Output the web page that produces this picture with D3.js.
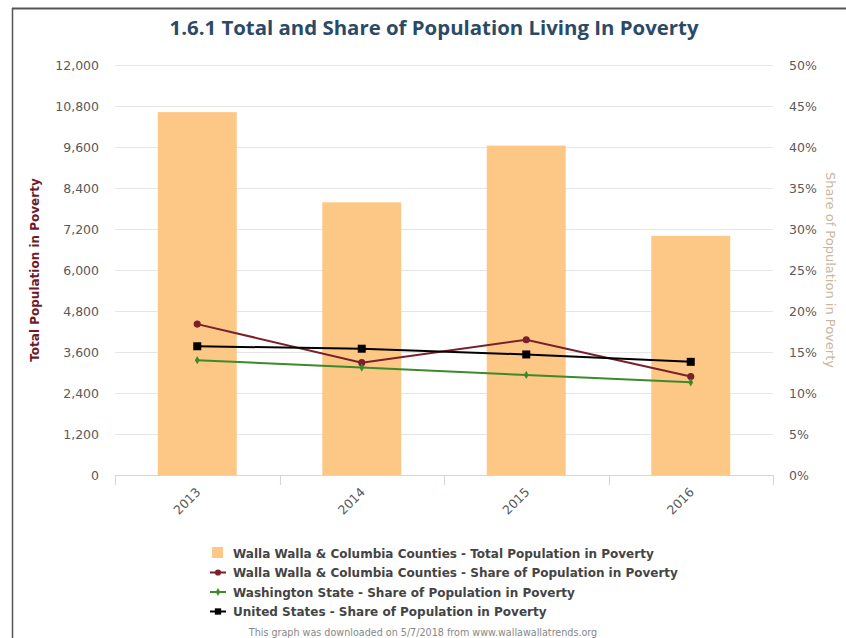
<!DOCTYPE html>
<html>
<head>
<meta charset="utf-8">
<script src="https://cdn.jsdelivr.net/npm/d3@7"></script>
<style>
  body { margin: 0; background: #fff; }
  svg { display: block; }
</style>
</head>
<body>
<div id="chart"></div>
<script>
// CHART DATA
const years = ['2013', '2014', '2015', '2016'];
const countyTotal = [10620, 7980, 9640, 7000];
const countyShare = [18.4, 13.7, 16.5, 12.0];
const stateShare = [14.0, 13.1, 12.2, 11.3];
const usShare = [15.7, 15.4, 14.7, 13.8];
const leftTicks = [0, 1200, 2400, 3600, 4800, 6000, 7200, 8400, 9600, 10800, 12000];
const rightTicks = [0, 5, 10, 15, 20, 25, 30, 35, 40, 45, 50];

// PLOT DEFAULTS
const SVG_WIDTH = 846;
const SVG_HEIGHT = 638;
const PLOT = { left: 115, right: 773, top: 65, bottom: 475 };
const BAR_COLOR = '#fdc785';
const FONT = '"DejaVu Sans", Verdana, sans-serif';

const svg = d3.select('#chart')
  .append('svg')
  .attr('width', SVG_WIDTH)
  .attr('height', SVG_HEIGHT);

// frame around the exported graph
svg.append('line')
  .attr('x1', 12).attr('x2', SVG_WIDTH).attr('y1', 8.5).attr('y2', 8.5)
  .attr('stroke', '#555').attr('stroke-width', 2);
svg.append('line')
  .attr('x1', 12.5).attr('x2', 12.5).attr('y1', 8).attr('y2', SVG_HEIGHT)
  .attr('stroke', '#555').attr('stroke-width', 1.5);

// title
svg.append('text')
  .attr('x', 434)
  .attr('y', 35)
  .attr('text-anchor', 'middle')
  .style('font-family', '"Open Sans", sans-serif')
  .style('font-weight', 'bold')
  .style('font-size', '20.4px')
  .style('fill', '#2b4a66')
  .text('1.6.1 Total and Share of Population Living In Poverty');

// scales
const xScale = d3.scaleBand()
  .domain(years)
  .range([PLOT.left, PLOT.right])
  .paddingInner(0)
  .paddingOuter(0);

const barWidth = xScale.bandwidth() * 0.48;

const yLeft = d3.scaleLinear()
  .domain([0, 12000])
  .range([PLOT.bottom, PLOT.top]);

const yRight = d3.scaleLinear()
  .domain([0, 50])
  .range([PLOT.bottom, PLOT.top]);

// grid lines
svg.append('g')
  .selectAll('line')
  .data(leftTicks.slice(1))
  .join('line')
  .attr('x1', PLOT.left)
  .attr('x2', PLOT.right)
  .attr('y1', d => Math.round(yLeft(d)) + 0.5)
  .attr('y2', d => Math.round(yLeft(d)) + 0.5)
  .attr('stroke', '#e6e6e6')
  .attr('stroke-width', 1);

// left axis labels
svg.append('g')
  .selectAll('text')
  .data(leftTicks)
  .join('text')
  .attr('x', 99)
  .attr('y', d => yLeft(d) + 4.5)
  .attr('text-anchor', 'end')
  .style('font-family', FONT)
  .style('font-size', '12.5px')
  .style('fill', '#5a5a5a')
  .text(d => d3.format(',')(d));

// right axis labels
svg.append('g')
  .selectAll('text')
  .data(rightTicks)
  .join('text')
  .attr('x', 789)
  .attr('y', d => yRight(d) + 4.5)
  .attr('text-anchor', 'start')
  .style('font-family', FONT)
  .style('font-size', '12.5px')
  .style('fill', '#5a5a5a')
  .text(d => d + '%');

// axis titles
svg.append('text')
  .attr('transform', 'translate(39, 270) rotate(-90)')
  .attr('text-anchor', 'middle')
  .style('font-family', FONT)
  .style('font-weight', 'bold')
  .style('font-size', '12px')
  .style('fill', '#6e1a2a')
  .text('Total Population in Poverty');

svg.append('text')
  .attr('transform', 'translate(826, 270) rotate(90)')
  .attr('text-anchor', 'middle')
  .style('font-family', FONT)
  .style('font-size', '13px')
  .style('fill', '#cbb79c')
  .text('Share of Population in Poverty');

// bars
svg.append('g')
  .selectAll('rect')
  .data(years)
  .join('rect')
  .attr('x', d => xScale(d) + (xScale.bandwidth() - barWidth) / 2)
  .attr('width', barWidth)
  .attr('y', (d, i) => yLeft(countyTotal[i]))
  .attr('height', (d, i) => PLOT.bottom - yLeft(countyTotal[i]))
  .attr('fill', BAR_COLOR);

// x axis line and ticks
const xAxis = svg.append('g');
xAxis.append('line')
  .attr('x1', PLOT.left).attr('x2', PLOT.right)
  .attr('y1', PLOT.bottom + 0.5).attr('y2', PLOT.bottom + 0.5)
  .attr('stroke', '#ccd6eb');
xAxis.selectAll('line.tick')
  .data(years.concat(['end']))
  .join('line')
  .attr('class', 'tick')
  .attr('x1', (d, i) => Math.round(i < years.length ? xScale(d) : PLOT.right) + 0.5)
  .attr('x2', (d, i) => Math.round(i < years.length ? xScale(d) : PLOT.right) + 0.5)
  .attr('y1', PLOT.bottom)
  .attr('y2', PLOT.bottom + 10)
  .attr('stroke', '#ccd6eb');

// rotated year labels
xAxis.selectAll('text')
  .data(years)
  .join('text')
  .attr('transform', d => `translate(${xScale(d) + xScale.bandwidth() / 2 + 4}, ${PLOT.bottom + 18}) rotate(-45)`)
  .attr('text-anchor', 'end')
  .style('font-family', FONT)
  .style('font-size', '12.5px')
  .style('fill', '#5a5a5a')
  .text(d => d);

// share lines
const cx = d => xScale(d) + xScale.bandwidth() / 2;

const lineSeries = [
  { values: countyShare, color: '#7a1f2b', marker: 'circle' },
  { values: stateShare, color: '#3b8a2c', marker: 'diamond' },
  { values: usShare, color: '#000000', marker: 'square' }
];

const markerPath = {
  circle: d3.symbol().type(d3.symbolCircle).size(40),
  diamond: d3.symbol().type(d3.symbolDiamond).size(20),
  square: d3.symbol().type(d3.symbolSquare).size(64)
};

lineSeries.forEach(s => {
  const line = d3.line()
    .x((d, i) => cx(years[i]))
    .y(d => yRight(d));

  svg.append('path')
    .datum(s.values)
    .attr('d', line)
    .attr('fill', 'none')
    .attr('stroke', s.color)
    .attr('stroke-width', 2);

  svg.append('g')
    .selectAll('path')
    .data(s.values)
    .join('path')
    .attr('transform', (d, i) => `translate(${cx(years[i])}, ${yRight(d)})`)
    .attr('d', markerPath[s.marker]())
    .attr('fill', s.color);
});

// legend
const legendItems = [
  { label: 'Walla Walla & Columbia Counties - Total Population in Poverty', type: 'bar', color: BAR_COLOR },
  { label: 'Walla Walla & Columbia Counties - Share of Population in Poverty', type: 'circle', color: '#7a1f2b' },
  { label: 'Washington State - Share of Population in Poverty', type: 'diamond', color: '#3b8a2c' },
  { label: 'United States - Share of Population in Poverty', type: 'square', color: '#000000' }
];

const legend = svg.append('g');
legendItems.forEach((item, i) => {
  const y = 553 + i * 19.5;
  if (item.type === 'bar') {
    legend.append('rect')
      .attr('x', 212).attr('y', y - 6)
      .attr('width', 11).attr('height', 11)
      .attr('fill', item.color);
  } else {
    legend.append('line')
      .attr('x1', 210).attr('x2', 226)
      .attr('y1', y).attr('y2', y)
      .attr('stroke', item.color).attr('stroke-width', 2);
    legend.append('path')
      .attr('transform', `translate(218, ${y})`)
      .attr('d', d3.symbol().type(item.type === 'circle' ? d3.symbolCircle : item.type === 'diamond' ? d3.symbolDiamond : d3.symbolSquare)
        .size(item.type === 'circle' ? 30 : item.type === 'diamond' ? 18 : 40)())
      .attr('fill', item.color);
  }
  legend.append('text')
    .attr('x', 233)
    .attr('y', y + 4.5)
    .style('font-family', FONT)
    .style('font-weight', 'bold')
    .style('font-size', '12px')
    .style('fill', '#444')
    .text(item.label);
});

// footer
svg.append('text')
  .attr('x', 423)
  .attr('y', 636)
  .attr('text-anchor', 'middle')
  .style('font-family', FONT)
  .style('font-size', '9.6px')
  .style('fill', '#888')
  .text('This graph was downloaded on 5/7/2018 from www.wallawallatrends.org');
</script>
</body>
</html>
